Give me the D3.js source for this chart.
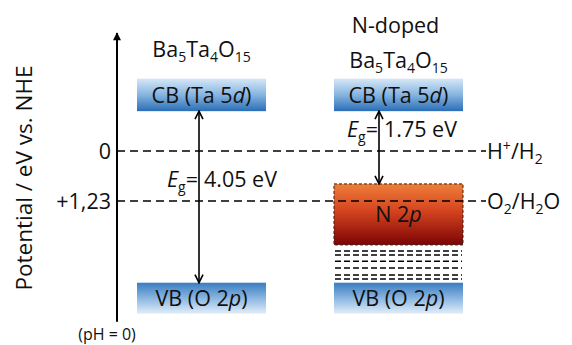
<!DOCTYPE html>
<html>
<head>
<meta charset="utf-8">
<script src="https://cdn.jsdelivr.net/npm/d3@7"></script>
<style>
  body { margin: 0; background: #fff; }
  svg text { font-family: "Open Sans", Lato, sans-serif; fill: #111; }
</style>
</head>
<body>
<div id="chart"></div>
<script>
// Energy levels (eV vs NHE, positive downward)
const columns = ["undoped", "doped"];
const redoxLevels = [0, 1.23];
const redoxLabels = ["0", "+1,23"];
const cbBand = [-1.78, -0.98];       // top, bottom
const vbBand = [3.24, 4.0];
const n2pBand = [0.81, 2.31];
const tailLevels = [2.46, 2.56, 2.71, 2.88, 3.05, 3.15];
const gapLabels = ["4.05 eV", "1.75 eV"];
const axisRange = [-2.9, 4.2];

const width = 572, height = 345;
const fs = "21.5px", subFs = "14px";

const svg = d3.select("#chart")
    .append("svg")
    .attr("width", width)
    .attr("height", height);

const y = d3.scaleLinear().domain([0, 1.23]).range([151, 201]);
const x = d3.scaleBand().domain(columns).range([137, 463]).paddingInner(0.345);
const axisX = 117;

const defs = svg.append("defs");
function grad(id, stops) {
    const g = defs.append("linearGradient").attr("id", id)
        .attr("x1", 0).attr("y1", 0).attr("x2", 0).attr("y2", 1);
    stops.forEach(s => g.append("stop").attr("offset", s[0]).attr("stop-color", s[1]));
}
grad("cbGrad", [[0, "#d6e7f6"], [0.5, "#86b4e0"], [1, "#2a6eb6"]]);
grad("vbGrad", [[0, "#3a7dc2"], [0.5, "#8ab6e0"], [1, "#e1edf8"]]);
grad("npGrad", [[0, "#ef7e3a"], [0.45, "#d4431f"], [1, "#7c0404"]]);

const marker = defs.append("marker").attr("id", "head")
    .attr("viewBox", "0 0 10 10").attr("refX", 9).attr("refY", 5)
    .attr("markerWidth", 10).attr("markerHeight", 10)
    .attr("markerUnits", "userSpaceOnUse").attr("orient", "auto-start-reverse");
marker.append("path").attr("d", "M1,1 L9,5 L1,9").attr("fill", "none")
    .attr("stroke", "#000").attr("stroke-width", 1.6);

const axisHead = defs.append("marker").attr("id", "axisHead")
    .attr("viewBox", "0 0 10 10").attr("refX", 9).attr("refY", 5)
    .attr("markerWidth", 10).attr("markerHeight", 8)
    .attr("markerUnits", "userSpaceOnUse").attr("orient", "auto");
axisHead.append("path").attr("d", "M0,0 L10,5 L0,10 Z").attr("fill", "#000");

// vertical potential axis
svg.append("line")
    .attr("x1", axisX).attr("x2", axisX)
    .attr("y1", y(axisRange[1])).attr("y2", y(axisRange[0]))
    .attr("stroke", "#000").attr("stroke-width", 2)
    .attr("marker-end", "url(#axisHead)");

svg.append("text")
    .attr("transform", "translate(32,178) rotate(-90)")
    .attr("text-anchor", "middle")
    .style("font-size", "22.5px")
    .text("Potential / eV vs. NHE");

svg.append("text")
    .attr("x", axisX - 10).attr("y", 340)
    .attr("text-anchor", "middle")
    .style("font-size", "16px")
    .text("(pH = 0)");

// bands
function band(col, range, fill) {
    return svg.append("rect")
        .attr("x", x(col)).attr("width", x.bandwidth())
        .attr("y", y(range[0])).attr("height", y(range[1]) - y(range[0]))
        .attr("fill", fill);
}
columns.forEach(c => {
    band(c, cbBand, "url(#cbGrad)");
    band(c, vbBand, "url(#vbGrad)");
});
band("doped", n2pBand, "url(#npGrad)")
    .attr("stroke", "#222").attr("stroke-width", 1)
    .attr("stroke-dasharray", "3,2");

// tail states under N 2p
svg.selectAll("line.tail").data(tailLevels).join("line")
    .attr("class", "tail")
    .attr("x1", x("doped") + 1).attr("x2", x("doped") + x.bandwidth() - 1)
    .attr("y1", d => y(d)).attr("y2", d => y(d))
    .attr("stroke", "#000").attr("stroke-width", 1.5)
    .attr("stroke-dasharray", "6,3");

// redox dashed lines
svg.selectAll("line.redox").data(redoxLevels).join("line")
    .attr("class", "redox")
    .attr("x1", axisX).attr("x2", 486)
    .attr("y1", d => y(d)).attr("y2", d => y(d))
    .attr("stroke", "#000").attr("stroke-width", 1.6)
    .attr("stroke-dasharray", "8,5");

svg.selectAll("text.tick").data(redoxLabels).join("text")
    .attr("class", "tick")
    .attr("x", axisX - 6).attr("y", (d, i) => y(redoxLevels[i]) + 8)
    .attr("text-anchor", "end")
    .style("font-size", fs)
    .text(d => d);

// redox couple labels
const h2 = svg.append("text").attr("x", 487).attr("y", y(0) + 8).style("font-size", fs);
h2.append("tspan").text("H");
h2.append("tspan").attr("dy", -8).style("font-size", subFs).text("+");
h2.append("tspan").attr("dy", 8).text("/H");
h2.append("tspan").attr("dy", 5).style("font-size", subFs).text("2");

const o2 = svg.append("text").attr("x", 487).attr("y", y(1.23) + 8).style("font-size", fs);
o2.append("tspan").text("O");
o2.append("tspan").attr("dy", 5).style("font-size", subFs).text("2");
o2.append("tspan").attr("dy", -5).text("/H");
o2.append("tspan").attr("dy", 5).style("font-size", subFs).text("2");
o2.append("tspan").attr("dy", -5).text("O");

// formula titles
function formula(cx, by) {
    const t = svg.append("text").attr("x", cx).attr("y", by)
        .attr("text-anchor", "middle").style("font-size", fs);
    [["Ba", 0], ["5", 1], ["Ta", 0], ["4", 1], ["O", 0], ["15", 1]].forEach((p, i, arr) => {
        const prev = i > 0 ? arr[i - 1][1] : 0;
        t.append("tspan").attr("dy", (p[1] - prev) * 5)
            .style("font-size", p[1] ? subFs : fs).text(p[0]);
    });
    return t;
}
const cx = c => x(c) + x.bandwidth() / 2;
formula(cx("undoped"), 57);
svg.append("text").attr("x", cx("doped") - 3).attr("y", 33)
    .attr("text-anchor", "middle").style("font-size", fs).text("N-doped");
formula(cx("doped"), 68);

// band labels
function bandLabel(col, range, parts) {
    const t = svg.append("text").attr("x", cx(col))
        .attr("y", (y(range[0]) + y(range[1])) / 2 + 8)
        .attr("text-anchor", "middle").style("font-size", fs);
    parts.forEach(p => t.append("tspan").style("font-style", p[1] ? "italic" : "normal").text(p[0]));
}
columns.forEach(c => {
    bandLabel(c, cbBand, [["CB (Ta 5", 0], ["d", 1], [")", 0]]);
    bandLabel(c, vbBand, [["VB (O 2", 0], ["p", 1], [")", 0]]);
});
bandLabel("doped", n2pBand, [["N 2", 0], ["p", 1]]);

// band-gap arrows
const gaps = [
    { from: cbBand[1], to: vbBand[0], ax: 199, ty: 187 },
    { from: cbBand[1], to: n2pBand[0], ax: 379, ty: 137 }
];
gaps.forEach((g, i) => {
    svg.append("line")
        .attr("x1", g.ax).attr("x2", g.ax)
        .attr("y1", y(g.from)).attr("y2", y(g.to))
        .attr("stroke", "#000").attr("stroke-width", 1.6)
        .attr("marker-start", "url(#head)").attr("marker-end", "url(#head)");
    const t = svg.append("text").attr("x", g.ax - 1).attr("y", g.ty)
        .attr("text-anchor", "end").style("font-size", fs);
    t.append("tspan").style("font-style", "italic").text("E");
    t.append("tspan").attr("dy", 5).style("font-size", subFs).text("g");
    t.append("tspan").attr("dy", -5).text("=");
    svg.append("text").attr("x", g.ax + 5).attr("y", g.ty)
        .style("font-size", fs).text(gapLabels[i]);
});
</script>
</body>
</html>
